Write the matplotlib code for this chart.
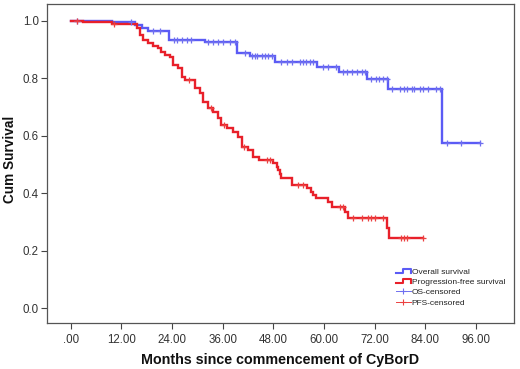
import numpy as np
import matplotlib
matplotlib.use("Agg")
import matplotlib.pyplot as plt
from matplotlib.lines import Line2D
from matplotlib.legend_handler import HandlerBase

plt.rcParams['font.family'] = ['Liberation Sans', 'DejaVu Sans']

# Overall survival: step times (months) and survival after each step
os_t = [0, 9.7, 15.2, 16.8, 18.4, 23.2, 31.9, 39.3, 42.4, 48.4, 58.4, 63.5, 70.1, 75.2, 87.8]
os_s = [1.0, 0.994, 0.985, 0.974, 0.965, 0.933, 0.925, 0.889, 0.878, 0.855, 0.840, 0.823, 0.796, 0.762, 0.574]
os_end = 96.9
os_cens = [1.6, 14.4, 19.5, 21.1, 24.5, 25.1, 26.3, 27.5, 28.6, 32.6, 33.8, 34.9, 36.1, 37.7, 38.9,
           41.3, 42.9, 43.6, 44.2, 45.2, 46.0, 46.8, 47.6, 49.9, 51.1, 52.3, 54.3, 54.9, 55.7, 56.6,
           57.4, 59.8, 61.0, 62.8, 64.4, 65.5, 66.7, 67.8, 68.9, 69.7, 71.2, 72.3, 73.0, 74.0, 74.8,
           76.0, 77.9, 78.9, 79.7, 80.7, 81.3, 82.7, 83.5, 84.6, 86.6, 87.4, 89.1, 92.5, 96.9]

# Progression-free survival
pfs_t = [0, 3.0, 9.7, 15.6, 16.4, 17.2, 18.4, 19.6, 20.7, 21.5, 22.3, 23.5, 24.3, 25.5, 26.3, 27.1,
         29.4, 30.6, 31.4, 32.6, 33.8, 34.9, 35.7, 36.9, 38.5, 39.7, 40.5, 42.0, 43.2, 44.6, 48.0,
         48.8, 49.1, 49.5, 49.9, 52.3, 55.9, 57.0, 57.4, 58.2, 61.0, 61.8, 64.9, 65.7, 75.0, 75.4]
pfs_s = [1.0, 0.994, 0.987, 0.974, 0.950, 0.933, 0.921, 0.913, 0.904, 0.892, 0.881, 0.875, 0.846,
         0.834, 0.805, 0.794, 0.765, 0.748, 0.718, 0.695, 0.684, 0.661, 0.637, 0.626, 0.614, 0.597,
         0.562, 0.550, 0.527, 0.516, 0.504, 0.490, 0.481, 0.466, 0.452, 0.429, 0.417, 0.405, 0.394,
         0.382, 0.371, 0.353, 0.336, 0.313, 0.280, 0.243]
pfs_end = 83.5
pfs_cens = [1.6, 10.2, 28.0, 33.2, 36.4, 41.0, 46.4, 47.2, 53.9, 55.1, 63.7, 64.5, 66.9, 68.9,
            70.4, 71.2, 72.0, 74.0, 78.3, 78.9, 79.7, 83.5]

xticks = [0, 12, 24, 36, 48, 60, 72, 84, 96]
xticklabels = ['.00', '12.00', '24.00', '36.00', '48.00', '60.00', '72.00', '84.00', '96.00']
yticks = [0.0, 0.2, 0.4, 0.6, 0.8, 1.0]
yticklabels = ['0.0', '0.2', '0.4', '0.6', '0.8', '1.0']
labels = ['Overall survival', 'Progression-free survival', 'OS-censored', 'PFS-censored']

BLUE = '#5b5bf5'
RED = '#e8202a'
BLUE_C = '#6f6ff0'
RED_C = '#ec4040'


def step_at(tt, ss, x):
    idx = np.searchsorted(tt, x, side='right') - 1
    return np.asarray(ss)[idx]


fig = plt.figure(figsize=(5.2, 3.69), dpi=100)
ax = fig.add_axes([0.0904, 0.1247, 0.8976, 0.8643])

for tt, ss, end, cens, col, ccol in [(os_t, os_s, os_end, os_cens, BLUE, BLUE_C),
                                      (pfs_t, pfs_s, pfs_end, pfs_cens, RED, RED_C)]:
    xs = list(tt) + [end]
    ys = list(ss) + [ss[-1]]
    ax.step(xs, ys, where='post', color=col, lw=1.7, solid_joinstyle='miter', zorder=3)
    ax.plot(cens, step_at(tt, ss, cens), ls='none', marker='+', ms=5, mew=0.9,
            color=ccol, zorder=4)

ax.set_xlim(-5.6, 104.9)
ax.set_ylim(-0.051, 1.058)
ax.set_xticks(xticks)
ax.set_xticklabels(xticklabels)
ax.set_yticks(yticks)
ax.set_yticklabels(yticklabels)
ax.tick_params(axis='both', which='major', labelsize=8.3, labelcolor='#333333',
               color='#444444', length=4, width=0.8, direction='out')
ax.tick_params(axis='x', pad=4)
ax.tick_params(axis='y', pad=2)
for sp in ax.spines.values():
    sp.set_color('#555555')
    sp.set_linewidth(0.9)

ax.set_xlabel('Months since commencement of CyBorD', fontsize=10.3, fontweight='bold',
              color='#111111')
ax.xaxis.set_label_coords((280.5 - 47) / 467, (323 - 360) / 319)
ax.set_ylabel('Cum Survival', fontsize=9.8, fontweight='bold', color='#111111')
ax.yaxis.set_label_coords((10 - 47) / 467, (323 - 159) / 319)
ax.yaxis.label.set_verticalalignment('center')
ax.xaxis.label.set_verticalalignment('center')


class StepHandler(HandlerBase):
    def create_artists(self, legend, orig_handle, xdescent, ydescent, width, height,
                       fontsize, trans):
        x0 = -xdescent
        y0 = -ydescent
        xs = [x0, x0 + 0.5 * width, x0 + 0.5 * width, x0 + width, x0 + width]
        ys = [y0 + 0.2 * height, y0 + 0.2 * height, y0 + 0.8 * height, y0 + 0.8 * height,
              y0 + 0.2 * height]
        ln = Line2D(xs, ys, color=orig_handle.get_color(), lw=1.5, transform=trans)
        return [ln]


h_os = Line2D([], [], color=BLUE)
h_pfs = Line2D([], [], color=RED)
h_osc = Line2D([], [], color=BLUE_C, lw=0.7, marker='+', ms=5, mew=0.8)
h_pfsc = Line2D([], [], color=RED_C, lw=0.7, marker='+', ms=5, mew=0.8)
leg = ax.legend([h_os, h_pfs, h_osc, h_pfsc], labels,
                handler_map={h_os: StepHandler(), h_pfs: StepHandler()},
                loc='upper left', bbox_to_anchor=(0.745, 0.178), frameon=False,
                fontsize=6.0, handlelength=1.7, handletextpad=0.15, labelspacing=0.3,
                borderpad=0.2, borderaxespad=0)
for t in leg.get_texts():
    t.set_color('#222222')

fig.savefig('out.png', dpi=100)
